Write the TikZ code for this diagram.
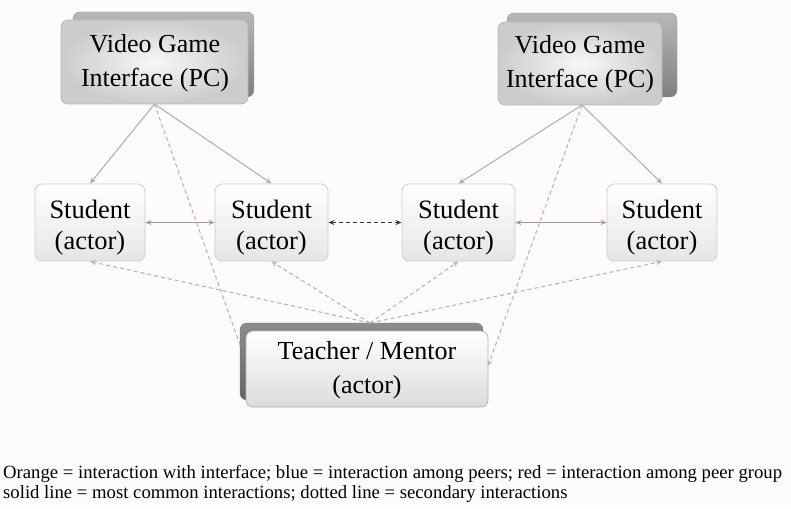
\documentclass[tikz,border=0pt]{standalone}
\usepackage{fontspec}
\setmainfont{Liberation Serif}
\usetikzlibrary{arrows.meta}
\definecolor{linkc}{HTML}{BBA6A4}
\definecolor{dashc}{HTML}{C6B0AA}
\definecolor{peerc}{HTML}{3A3A3A}
\tikzset{
  face/.style={rounded corners=7pt, draw=#1, line width=0.8pt},
  vgback/.style={rounded corners=7pt, top color=black!28, bottom color=black!50, draw=black!42},
  vgfront/.style={face=black!28, inner color=black!3, outer color=black!20},
  stud/.style={rounded corners=7pt, draw=black!20, line width=0.8pt, top color=white, bottom color=black!10,
    minimum width=110pt, minimum height=77pt, inner sep=0pt},
  slbl/.style={align=center, font=\fontsize{26.5}{31}\selectfont, inner sep=0pt},
  tback/.style={rounded corners=7pt, top color=black!45, bottom color=black!60, draw=black!55},
  tfront/.style={face=black!30, top color=white, bottom color=black!14},
  lbl/.style={align=center, font=\fontsize{26}{34}\selectfont, inner sep=0pt},
  tipx/.tip={Stealth[length=6pt,width=5pt]},
  solidlink/.style={draw=linkc, line width=1pt, -tipx},
  dashlink/.style={draw=dashc, line width=1.1pt, dash pattern=on 4pt off 3pt, -tipx},
  peerlink/.style={draw=linkc!90!black, line width=1.1pt, tipx-tipx},
  peerdash/.style={draw=peerc, line width=1.1pt, dash pattern=on 4pt off 3pt, tipx-tipx},
}
\begin{document}
\begin{tikzpicture}[x=1pt,y=-1pt]
  \fill[black!1] (0,0) rectangle (791,508);
  \useasboundingbox (0,0) rectangle (791,508);

  % interface boxes (back layer, then front face)
  \path[vgback] (73,12) rectangle (254,97);
  \path[vgfront] (61,20) rectangle (248,104);
  \node[lbl] (vg1) at (155,63) {Video Game\\Interface (PC)};
  \coordinate (vg1s) at (154.5,104);

  \path[vgback] (507,13) rectangle (677,97);
  \path[vgfront] (498,22) rectangle (662,105);
  \node[lbl] (vg2) at (580,64.5) {Video Game\\Interface (PC)};
  \coordinate (vg2s) at (582,105);

  % teacher box
  \path[tback] (240,323) rectangle (483,400);
  \path[tfront] (246,331) rectangle (488,407);
  \node[lbl] (t) at (367,370) {Teacher / Mentor\\(actor)};
  \coordinate (tw) at (240,345);
  \coordinate (te) at (488,366);
  \coordinate (tn) at (370,323);

  % students: box, then its text set a little below the centre
  \node[stud] (s1) at (90,222.5) {};
  \node[stud, minimum width=113pt] (s2) at (271.5,222.5) {};
  \node[stud, minimum width=113pt] (s3) at (458.5,222.5) {};
  \node[stud] (s4) at (662,222.5) {};
  \foreach \s in {s1,s2,s3,s4}
    \node[slbl] (\s t) at ([yshift=-5pt]\s) {Student\\(actor)};

  % interface to students
  \draw[solidlink] (vg1s) -- (s1.north);
  \draw[solidlink] (vg1s) -- (s2.north);
  \draw[solidlink] (vg2s) -- (s3.north);
  \draw[solidlink] (vg2s) -- (s4.north);

  % interface to teacher
  \draw[dashlink, -] (vg1s) -- (tw);
  \draw[dashlink] (vg2s) -- (te);

  % peers
  \draw[peerlink] (s1.east) -- (s2.west);
  \draw[peerdash] (s2.east) -- (s3.west);
  \draw[peerlink] (s3.east) -- (s4.west);

  % teacher to students
  \draw[dashlink] (tn) -- (s1.south);
  \draw[dashlink] (tn) -- (s2.south);
  \draw[dashlink] (tn) -- (s3.south);
  \draw[dashlink] (tn) -- (s4.south);

  % legend
  \node[anchor=north west, align=left, inner sep=0pt, font=\fontsize{18.7}{20}\selectfont] (cap) at (3,465)
    {Orange = interaction with interface; blue = interaction among peers; red = interaction among peer group\\
     solid line = most common interactions; dotted line = secondary interactions};
\end{tikzpicture}
\end{document}
